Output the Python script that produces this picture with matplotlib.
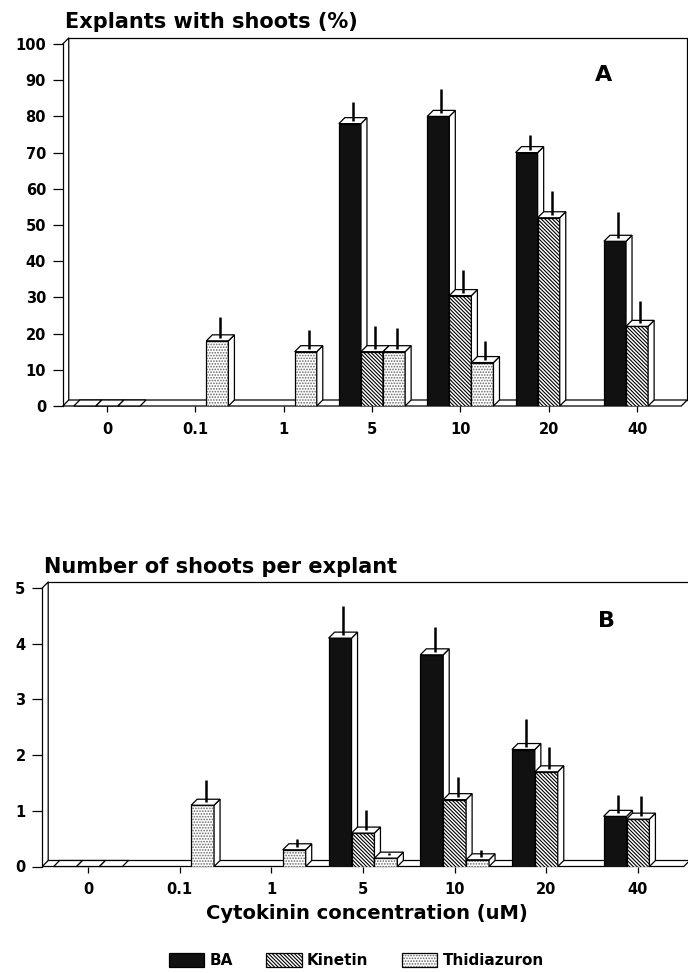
import matplotlib
matplotlib.use('Agg')
import matplotlib.pyplot as plt
import matplotlib.colors as mcolors
from matplotlib.patches import Polygon, Patch

# ---------------- data ----------------
categories = ['0', '0.1', '1', '5', '10', '20', '40']
series = ['BA', 'Kinetin', 'Thidiazuron']

# Panel A: explants with shoots (%)
ba_pct = [0, 0, 0, 78, 80, 70, 45.5]
ba_pct_err = [0, 0, 0, 6, 7.5, 5, 8]
kin_pct = [0, 0, 0, 15, 30.5, 52, 22]
kin_pct_err = [0, 0, 0, 7, 7, 7.5, 7]
tdz_pct = [0, 18, 15, 15, 12, 0, 0]
tdz_pct_err = [0, 6.5, 6, 6.5, 6, 0, 0]

# Panel B: number of shoots per explant
ba_num = [0, 0, 0, 4.1, 3.8, 2.1, 0.9]
ba_num_err = [0, 0, 0, 0.58, 0.5, 0.55, 0.38]
kin_num = [0, 0, 0, 0.6, 1.2, 1.7, 0.85]
kin_num_err = [0, 0, 0, 0.42, 0.4, 0.45, 0.42]
tdz_num = [0, 1.1, 0.3, 0.15, 0.12, 0, 0]
tdz_num_err = [0, 0.45, 0.2, 0.1, 0.18, 0, 0]

yticks_a = [0, 10, 20, 30, 40, 50, 60, 70, 80, 90, 100]
yticks_b = [0, 1, 2, 3, 4, 5]

# ---------------- style ----------------
FIG_W, FIG_H, DPI = 6.88, 9.73, 100
WPX, HPX = FIG_W * DPI, FIG_H * DPI
plt.rcParams['font.family'] = ['DejaVu Sans']
plt.rcParams['font.weight'] = 'bold'
plt.rcParams['hatch.linewidth'] = 0.8

DEPTH = 6  # px
BAR_W = 0.25
OFFSETS = [-0.25, 0.0, 0.25]
STYLES = [
    dict(color='#111111', hatch=None, hatch_color='black'),
    dict(color='white', hatch='\\' * 9, hatch_color='black'),
    dict(color='white', hatch='......', hatch_color='0.4'),
]
LW = 0.9


def draw_panel(ax, pos, groups, ymax, yticks):
    n = len(categories)
    x0, x1 = -0.5, n - 0.5
    ax.set_xlim(x0, x1)
    ax.set_ylim(0, ymax)
    wpx = pos[2] * WPX
    hpx = pos[3] * HPX
    dx = DEPTH / (wpx / (x1 - x0))
    dy = DEPTH / (hpx / ymax)

    # floor
    ax.add_patch(Polygon([(x0, 0), (x1, 0), (x1 + dx, dy), (x0 + dx, dy)],
                         closed=True, fc='white', ec='black', lw=LW,
                         clip_on=False, zorder=1))
    # back wall
    ax.plot([x0, x0 + dx, x0 + dx], [ymax, ymax + dy, dy], color='black',
            lw=LW, clip_on=False, zorder=0.5)
    ax.plot([x0 + dx, x1 + dx, x1 + dx], [ymax + dy, ymax + dy, dy],
            color='black', lw=LW, clip_on=False, zorder=0.5)

    z = 2.0
    for i in range(n):
        all_zero = all(g[0][i] == 0 for g in groups)
        for s, (vals, errs) in enumerate(groups):
            v, e = vals[i], errs[i]
            xc = i + OFFSETS[s]
            left = xc - BAR_W / 2
            right = xc + BAR_W / 2
            if v == 0:
                if all_zero:
                    ax.add_patch(Polygon([(left, 0), (right, 0), (right + dx, dy), (left + dx, dy)],
                                         closed=True, fc='white', ec='black', lw=LW,
                                         clip_on=False, zorder=z))
                    z += 0.01
                continue
            st = STYLES[s]
            bars = ax.bar(xc, v, width=BAR_W, color=st['color'], edgecolor='black',
                          linewidth=LW, hatch=st['hatch'], zorder=z)
            for p in bars:
                p._hatch_color = mcolors.to_rgba(st['hatch_color'])
            z += 0.01
            ax.add_patch(Polygon([(right, 0), (right + dx, dy), (right + dx, v + dy), (right, v)],
                                 closed=True, fc='white', ec='black', lw=LW,
                                 clip_on=False, zorder=z))
            ax.add_patch(Polygon([(left, v), (right, v), (right + dx, v + dy), (left + dx, v + dy)],
                                 closed=True, fc='white', ec='black', lw=LW,
                                 clip_on=False, zorder=z))
            if e > 0:
                xe = xc + dx / 2
                ax.plot([xe, xe], [v + dy / 2, v + e], color='black', lw=1.8,
                        solid_capstyle='butt', zorder=z, clip_on=False)
            z += 0.01

    for sp in ['top', 'right', 'bottom']:
        ax.spines[sp].set_visible(False)
    ax.spines['left'].set_linewidth(LW)
    ax.set_xticks(range(n))
    ax.set_xticklabels(categories)
    ax.set_yticks(yticks)
    ax.tick_params(axis='x', direction='out', length=4, width=LW, pad=7.5,
                   labelsize=10.5)
    ax.tick_params(axis='y', direction='out', length=7.5, width=LW, pad=4.5,
                   labelsize=10.5)
    ax.patch.set_visible(False)


fig = plt.figure(figsize=(FIG_W, FIG_H), dpi=DPI)

pos_a = [62.75 / WPX, 1 - 406 / HPX, 618.5 / WPX, 362 / HPX]
ax_a = fig.add_axes(pos_a)
draw_panel(ax_a, pos_a, [(ba_pct, ba_pct_err), (kin_pct, kin_pct_err), (tdz_pct, tdz_pct_err)],
           100, yticks_a)
ax_a.text(603.5 / WPX, 1 - 75 / HPX, 'A', transform=fig.transFigure, ha='center',
          va='center', fontsize=16, fontweight='bold')

pos_b = [42.2 / WPX, 1 - 866.5 / HPX, 641.6 / WPX, 278.5 / HPX]
ax_b = fig.add_axes(pos_b)
draw_panel(ax_b, pos_b, [(ba_num, ba_num_err), (kin_num, kin_num_err), (tdz_num, tdz_num_err)],
           5, yticks_b)
ax_b.text(606 / WPX, 1 - 621 / HPX, 'B', transform=fig.transFigure, ha='center',
          va='center', fontsize=16, fontweight='bold')

fig.text(65 / WPX, 1 - 28 / HPX, 'Explants with shoots (%)', ha='left', va='baseline',
         fontsize=15, fontweight='bold')
fig.text(44 / WPX, 1 - 573 / HPX, 'Number of shoots per explant', ha='left', va='baseline',
         fontsize=15, fontweight='bold')
fig.text(366.5 / WPX, 1 - 919 / HPX, 'Cytokinin concentration (uM)', ha='center',
         va='baseline', fontsize=14, fontweight='bold')

handles = []
for s, name in enumerate(series):
    st = STYLES[s]
    h = Patch(facecolor=st['color'], edgecolor='black', linewidth=LW,
              hatch=st['hatch'], label=name)
    h._hatch_color = mcolors.to_rgba(st['hatch_color'])
    handles.append(h)
fig.legend(handles=handles, loc='center left', bbox_to_anchor=(169 / WPX, 1 - 960.5 / HPX),
           ncol=3, frameon=False, handlelength=2.3, handleheight=1.0,
           handletextpad=0.35, columnspacing=2.2, borderpad=0, borderaxespad=0,
           prop={'weight': 'bold', 'size': 11})

fig.savefig('out.png', dpi=DPI)
